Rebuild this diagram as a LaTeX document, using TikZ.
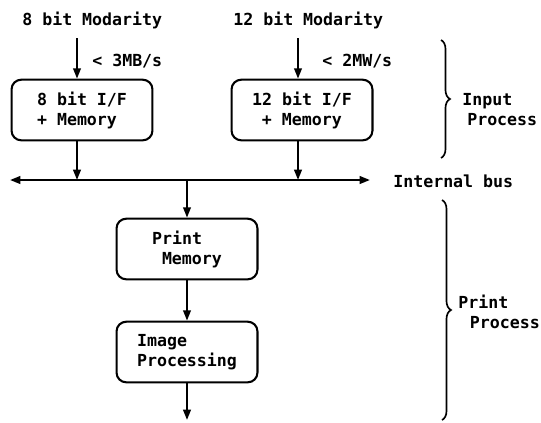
\documentclass[tikz,border=0pt]{standalone}
\usepackage{fontspec}
\setmainfont{DejaVu Sans Mono}
\usetikzlibrary{arrows.meta,decorations.pathreplacing}

\begin{document}
\begin{tikzpicture}[x=0.0254cm,y=-0.0254cm,
        every node/.style={font=\fontsize{12}{14.5}\selectfont\bfseries, inner sep=0pt},
        unit/.style={draw, line width=1.5pt, rounded corners=7pt, minimum width=3.58cm, minimum height=1.54cm, align=left},
        flow/.style={line width=1.5pt, -{Triangle[length=7.5pt,width=5.5pt]}},
        grp/.style={line width=1.2pt, decorate, decoration={brace, amplitude=6.5pt}},
        lbl/.style={anchor=west, align=left}]
        \useasboundingbox (0,0) rectangle (541,422);

        % input side
        \node[lbl] (src8) at (22,20) {8 bit Modarity};
        \node[lbl] (src12) at (233,20) {12 bit Modarity};
        \coordinate (in8) at (77,38);
        \coordinate (in12) at (298,38);
        \node[unit] (if8) at (82,110) {8 bit I/F\\+ Memory};
        \node[unit] (if12) at (302,110) {12 bit I/F\\\hspace*{0.6em}+ Memory};
        \draw[flow] (in8) -- (in8 |- if8.north);
        \draw[flow] (in12) -- (in12 |- if12.north);
        \node[lbl] (rate8) at (92,61) {< 3MB/s};
        \node[lbl] (rate12) at (322,61) {< 2MW/s};

        % internal bus
        \coordinate (busL) at (10,180);
        \coordinate (busR) at (370,180);
        \draw[line width=1.5pt, {Triangle[length=7.5pt,width=5.5pt]}-{Triangle[length=7.5pt,width=5.5pt]}] (busL) -- (busR);
        \node[lbl] (bus) at (393,181) {Internal bus};
        \draw[flow] (in8 |- if8.south) -- (in8 |- busL);
        \draw[flow] (in12 |- if12.south) -- (in12 |- busL);

        % print side
        \node[unit] (pmem) at (187,249) {Print\\\hspace*{0.6em}Memory};
        \node[unit] (imgp) at (187,352) {Image\\Processing};
        \coordinate (out) at (187,420);
        \draw[flow] (pmem.north |- busL) -- (pmem.north);
        \draw[flow] (pmem) -- (imgp);
        \draw[flow] (imgp) -- (out);

        % process groups
        \draw[grp] (441,40) -- (441,158);
        \node[lbl] (inproc) at (462,110) {Input\\\hspace*{0.3em}Process};
        \draw[grp] (442,200) -- (442,420);
        \node[lbl] (prproc) at (458,312) {Print\\\hspace*{0.7em}Process};
\end{tikzpicture}
\end{document}
